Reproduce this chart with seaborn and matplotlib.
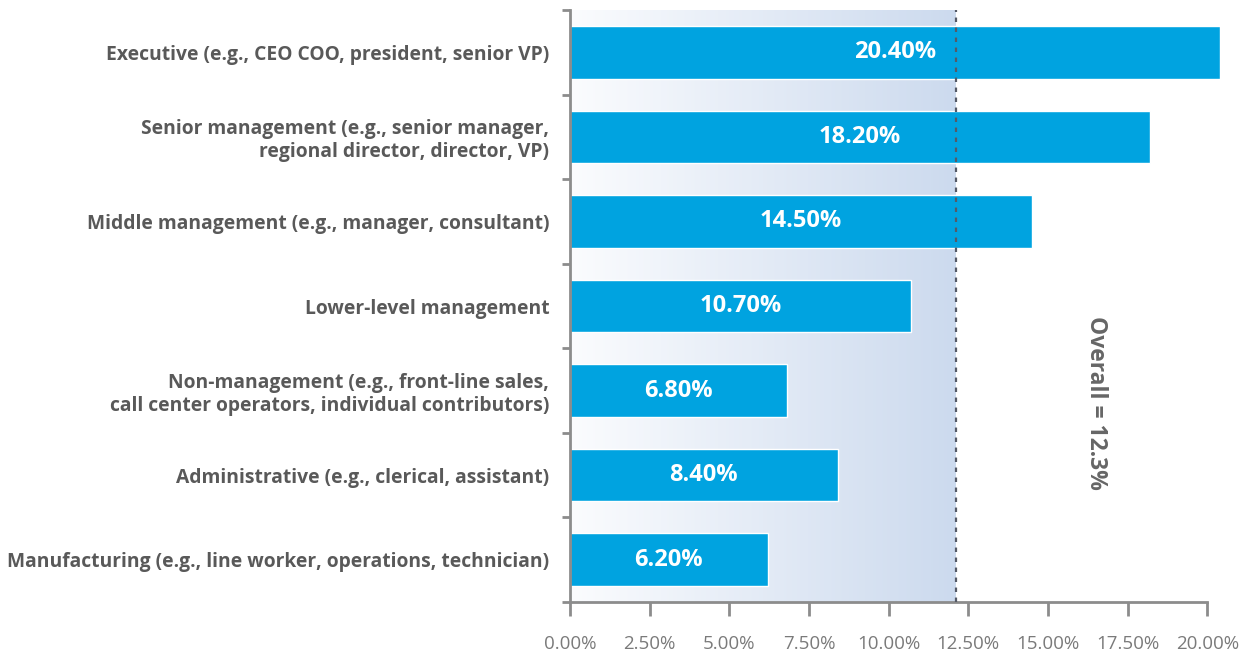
import numpy as np
import pandas as pd
import matplotlib
matplotlib.use("Agg")
import matplotlib.pyplot as plt
from matplotlib.colors import LinearSegmentedColormap
import seaborn as sns

categories = [
    "Executive (e.g., CEO COO, president, senior VP)",
    "Senior management (e.g., senior manager,\nregional director, director, VP)",
    "Middle management (e.g., manager, consultant)",
    "Lower-level management",
    "Non-management (e.g., front-line sales,\ncall center operators, individual contributors)",
    "Administrative (e.g., clerical, assistant)",
    "Manufacturing (e.g., line worker, operations, technician)",
]
values = [20.40, 18.20, 14.50, 10.70, 6.80, 8.40, 6.20]
x_ticks = [0, 2.5, 5, 7.5, 10, 12.5, 15, 17.5, 20]
overall_line = 12.1
overall_label = "Overall = 12.3%"

sns.set_style("white")
plt.rcParams['font.family'] = ['Open Sans', 'DejaVu Sans']

df = pd.DataFrame({"category": categories, "value": values})

fig = plt.figure(figsize=(12.48, 6.56), dpi=100)
ax = fig.add_axes([570/1248, (656-602)/656, 650/1248, 592/656])

# gradient background
cmap = LinearSegmentedColormap.from_list("g", ["#fbfcfe", "#ccdaee"])
grad = np.linspace(0, 1, 256).reshape(1, -1)
ax.imshow(grad, cmap=cmap, aspect="auto", extent=[0, overall_line, 6.5, -0.5], zorder=0)

sns.barplot(data=df, y="category", x="value", orient="h", color="#00a3e0",
            saturation=1, width=0.62, ax=ax, zorder=2)

for i, v in enumerate(values):
    ax.text(v / 2, i, f"{v:.2f}%", ha="center", va="center", color="white",
            fontsize=17, fontweight="bold", zorder=3)

ax.axvline(overall_line, color="#555a66", linestyle=(0, (2, 2.5)), linewidth=1.6, zorder=3)
ax.text(16.5, 4.15, overall_label, rotation=-90, ha="center", va="center",
        color="#666666", fontsize=16.5, fontweight="bold")

ax.set_xlim(0, 20.4)
ax.set_ylim(6.5, -0.5)
ax.set_xticks(x_ticks)
ax.set_xticklabels([f"{t:.2f}%" for t in x_ticks], color="#7a7a7a", fontsize=13.5)
ax.set_xlabel("")
ax.set_ylabel("")
ax.set_yticks(range(len(categories)))
ax.set_yticklabels(categories, fontsize=13.9, fontweight="bold", color="#595959")
ax.set_yticks(np.arange(-0.5, 7, 1), minor=True)

ax.tick_params(axis="y", which="major", left=False, length=0, pad=15)
ax.tick_params(axis="y", which="minor", left=True, length=6, width=2, color="#8c8c8c", direction="out")
ax.tick_params(axis="x", which="major", bottom=True, length=10, width=2, color="#8c8c8c",
               direction="out", pad=14)

for s in ["top", "right"]:
    ax.spines[s].set_visible(False)
for s in ["left", "bottom"]:
    ax.spines[s].set_color("#8c8c8c")
    ax.spines[s].set_linewidth(2)
ax.spines["bottom"].set_bounds(0, 20)

fig.savefig("out.png", dpi=100)
